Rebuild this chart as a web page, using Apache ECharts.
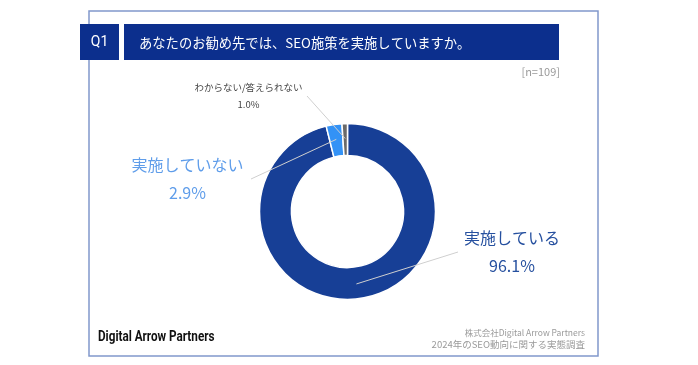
<!DOCTYPE html>
<html><head><meta charset="utf-8">
<script src="https://cdn.jsdelivr.net/npm/echarts@6/dist/echarts.min.js"></script>
<style>html,body{margin:0;padding:0;background:#fff}#c{width:698px;height:365px}</style>
</head><body><div id="c"></div>
<script>
const categories = ['実施している', '実施していない', 'わからない/答えられない'];
const values = [96.1, 2.9, 1.0];
const colors = ['#173f96', '#3392f6', '#6a6a6a'];
const labelColors = ['#26509f', '#5f9dea', '#555555'];
const titleText = 'あなたのお勧め先では、SEO施策を実施していますか。';
const sampleText = '[n=109]';
const footerLines = ['株式会社Digital Arrow Partners', '2024年のSEO動向に関する実態調査'];

const CX = 347.5, CY = 211.5, R0 = 56, R1 = 88;
// label block centre and the end of its guide line (layout only)
const labelPos = [
  {x: 512, y: 252, lineEndX: 458},
  {x: 187.5, y: 179, lineEndX: 251},
  {x: 248.5, y: 96, lineEndX: 307}
];

const chart = echarts.init(document.getElementById('c'));
const FONT = '"Noto Sans CJK JP","Noto Sans",sans-serif';

// guide lines from the middle of each ring segment (angle derived from data)
const total = values.reduce((a, b) => a + b, 0);
let cum = 0;
const guideLines = values.map((v, i) => {
  const mid = (cum + v / 2) / total * Math.PI * 2; // clockwise from top
  cum += v;
  const rm = (R0 + R1) / 2 + 1;
  const sx = CX + Math.sin(mid) * rm, sy = CY - Math.cos(mid) * rm;
  return {
    type: 'polyline', z: 20,
    shape: {points: [[sx, sy], [labelPos[i].lineEndX, labelPos[i].y]]},
    style: {stroke: '#cfcfcf', lineWidth: 1, fill: null}
  };
});

chart.setOption({
  animation: false,
  graphic: [
    {type: 'rect', shape: {x: 89, y: 11, width: 509, height: 345}, style: {fill: 'none', stroke: '#8198cc', lineWidth: 1.5}, z: 0},
    {type: 'rect', shape: {x: 80, y: 24, width: 39, height: 36}, style: {fill: '#0c2f8d'}, z: 1},
    {type: 'text', x: 99.5, y: 42.5, style: {text: 'Q1', fill: '#fff', font: '14px Roboto, sans-serif', textAlign: 'center', textVerticalAlign: 'middle'}, z: 2},
    {type: 'rect', shape: {x: 124, y: 24, width: 435, height: 36}, style: {fill: '#0c2f8d'}, z: 1},
    {type: 'text', x: 139, y: 42.5, style: {text: titleText, fill: '#fff', font: '13.3px ' + FONT, textAlign: 'left', textVerticalAlign: 'middle'}, z: 2},
    {type: 'text', x: 560, y: 72, style: {text: sampleText, fill: '#9a9a9a', font: '11px ' + FONT, textAlign: 'right', textVerticalAlign: 'middle'}, z: 2},
    {type: 'text', x: 98, y: 337, scaleX: 0.78, style: {text: 'Digital Arrow Partners', fill: '#111', font: 'bold 15px Roboto, sans-serif', textAlign: 'left', textVerticalAlign: 'middle'}, z: 2},
    {type: 'text', x: 585, y: 333, style: {text: footerLines[0], fill: '#9a9a9a', font: '8.5px ' + FONT, textAlign: 'right', textVerticalAlign: 'middle'}, z: 2},
    {type: 'text', x: 585, y: 344, style: {text: footerLines[1], fill: '#9a9a9a', font: '9.5px ' + FONT, textAlign: 'right', textVerticalAlign: 'middle'}, z: 2}
  ].concat(guideLines),
  series: [{
    type: 'pie',
    center: [CX, CY],
    radius: [R0, R1],
    startAngle: 90,
    clockwise: true,
    avoidLabelOverlap: false,
    itemStyle: {borderColor: '#fff', borderWidth: 1.5},
    emphasis: {disabled: true},
    data: categories.map((n, i) => ({
      name: n, value: values[i],
      itemStyle: {color: colors[i]},
      label: i === 2 ? {
        formatter: p => '{a|' + p.name + '}\n{a|' + p.value.toFixed(1) + '%}',
        rich: {a: {fontSize: 9.5, lineHeight: 17, color: '#444', fontFamily: FONT}}
      } : {
        formatter: p => '{a|' + p.name + '}\n{a|' + p.value.toFixed(1) + '%}',
        rich: {a: {fontSize: 16, lineHeight: 27.5, color: labelColors[i], fontFamily: FONT}}
      }
    })),
    label: {show: true, position: 'outside', align: 'center'},
    labelLine: {show: false},
    labelLayout: function (params) {
      const lp = labelPos[params.dataIndex];
      return {x: lp.x, y: lp.y, align: 'center', verticalAlign: 'middle'};
    }
  }]
});
</script></body></html>
